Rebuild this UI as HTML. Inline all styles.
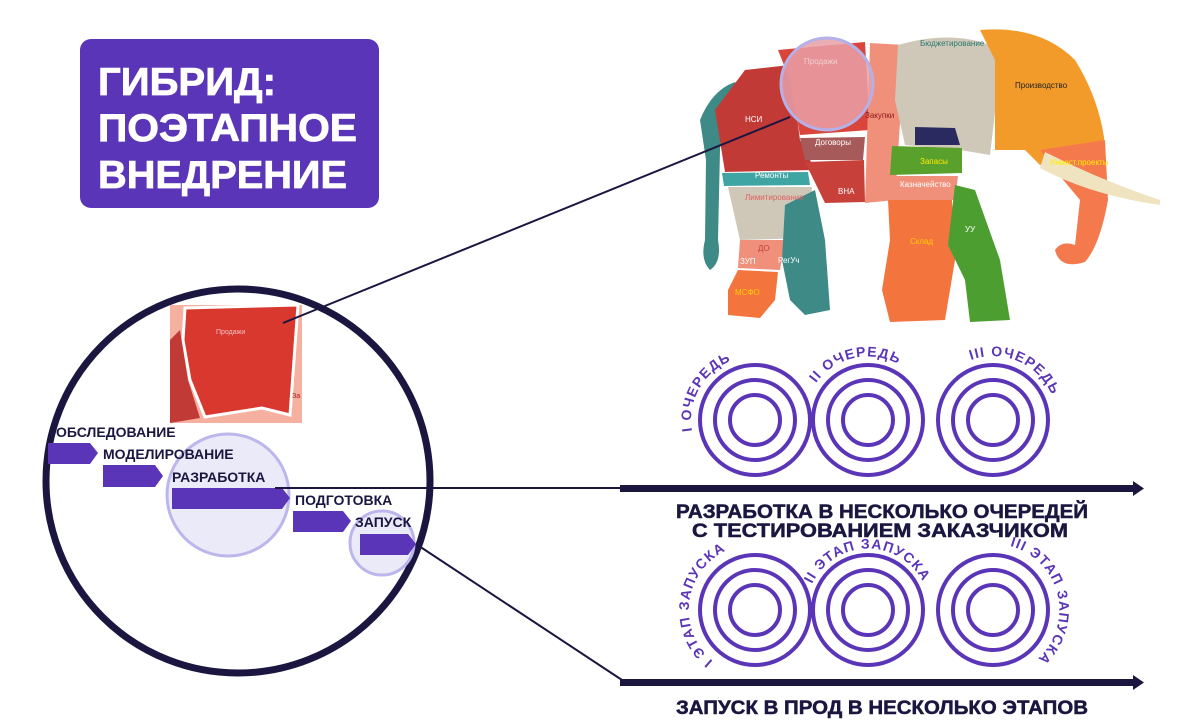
<!DOCTYPE html>
<html><head><meta charset="utf-8"><style>
html,body{margin:0;padding:0;background:#fff;}
svg{display:block;font-family:"Liberation Sans",sans-serif;font-weight:bold;}
</style></head><body>
<svg width="1200" height="725" viewBox="0 0 1200 725" xmlns="http://www.w3.org/2000/svg">
<!-- title -->
<rect x="80" y="39" width="299" height="169" rx="11" fill="#5a35b8"/>
<g fill="#fff" font-size="39" font-weight="bold" stroke="#fff" stroke-width="0.8">
<text x="98" y="95" textLength="178" lengthAdjust="spacingAndGlyphs">ГИБРИД:</text>
<text x="98" y="141" textLength="259" lengthAdjust="spacingAndGlyphs">ПОЭТАПНОЕ</text>
<text x="98" y="188" textLength="249" lengthAdjust="spacingAndGlyphs">ВНЕДРЕНИЕ</text>
</g>

<!-- elephant (approximate) -->
<g>
<path d="M700 120 Q712 90 735 82 L740 95 Q722 110 720 150 L718 240 Q722 262 710 270 Q700 260 705 240 L706 160 Z" fill="#3d8a86"/>
<path d="M715 110 L745 70 L790 65 L800 140 L815 170 L725 172 Z" fill="#c23a36"/>
<path d="M778 50 L865 42 L870 130 L800 135 L790 80 Z" fill="#d9453a"/>
<path d="M870 43 L905 45 L895 200 L865 203 Z" fill="#f0907a"/>
<path d="M800 138 L865 137 L863 160 L805 160 Z" fill="#a65a5a"/>
<path d="M805 162 L864 160 L865 202 L825 203 Z" fill="#c8403a"/>
<path d="M722 173 L808 172 L810 185 L724 186 Z" fill="#3fa5a3"/>
<path d="M728 187 L812 187 L808 238 L740 240 Z" fill="#cfc8b8"/>
<path d="M740 240 L785 240 L780 270 L738 268 Z" fill="#f0907a"/>
<path d="M738 270 L778 272 L775 300 L760 318 L728 315 L728 290 Z" fill="#f4743e"/>
<path d="M785 205 L815 190 L825 240 L830 310 L805 315 L790 300 L782 260 Z" fill="#3d8a86"/>
<path d="M898 45 Q950 30 990 45 L1000 70 L990 155 L960 150 L905 145 L895 100 Z" fill="#cfc8b8"/>
<path d="M980 30 Q1040 25 1075 60 Q1100 100 1105 145 L1040 165 L1025 150 L995 150 L995 60 Z" fill="#f39b2a"/>
<path d="M1040 150 L1105 140 L1108 200 Q1100 245 1085 262 Q1060 270 1055 250 Q1062 240 1075 245 L1080 200 L1055 170 Z" fill="#f47a4e"/>
<path d="M1045 152 Q1100 180 1160 200 L1160 205 Q1090 195 1040 168 Z" fill="#efe3c0"/>
<path d="M915 127 L955 128 L960 145 L915 145 Z" fill="#2b2a60"/>
<path d="M892 146 L962 148 L962 173 L890 175 Z" fill="#5aa02c"/>
<path d="M890 176 L958 176 L955 200 L888 200 Z" fill="#f0907a"/>
<path d="M888 200 L952 200 L955 260 L945 320 L890 322 L882 290 L890 240 Z" fill="#f4743e"/>
<path d="M955 185 L975 190 L1000 260 L1010 320 L970 322 L965 280 L948 245 Z" fill="#4d9e30"/>
<circle cx="827" cy="84" r="46" fill="#e8a0a8" fill-opacity="0.85" stroke="#b4b0e8" stroke-width="3"/>
<g font-size="8" font-weight="normal">
<text x="804" y="64" fill="#f0d0d0">Продажи</text>
<text x="745" y="122" fill="#fff">НСИ</text>
<text x="815" y="145" fill="#fff">Договоры</text>
<text x="865" y="118" fill="#8a1a1a">Закупки</text>
<text x="920" y="46" fill="#2a7a70">Бюджетирование</text>
<text x="1015" y="88" fill="#222">Производство</text>
<text x="1050" y="165" fill="#ffee00">Инвест.проекты</text>
<text x="920" y="164" fill="#ffee00">Запасы</text>
<text x="900" y="187" fill="#fff">Казначейство</text>
<text x="755" y="178" fill="#fff">Ремонты</text>
<text x="745" y="200" fill="#e06060">Лимитирование</text>
<text x="838" y="194" fill="#fff">ВНА</text>
<text x="758" y="251" fill="#c04040">ДО</text>
<text x="740" y="264" fill="#fff">ЗУП</text>
<text x="778" y="263" fill="#fff">РегУч</text>
<text x="735" y="295" fill="#ffcc00">МСФО</text>
<text x="910" y="244" fill="#ffcc00">Склад</text>
<text x="965" y="232" fill="#fff">УУ</text>
</g>
</g>

<!-- big circle -->
<circle cx="238" cy="481" r="192" fill="#fff" stroke="#1a1640" stroke-width="7"/>
<rect x="170" y="305" width="132" height="118" fill="#f5b0a0"/>
<path d="M185 308 L298 305 L290 415 L262 408 L205 417 L190 380 L183 340 Z" fill="#d9382f" stroke="#fff" stroke-width="3"/>
<path d="M170 340 L180 330 L188 380 L200 418 L170 423 Z" fill="#c23a36"/>
<text x="216" y="334" font-size="7" font-weight="normal" fill="#f0c0c0">Продажи</text>
<text x="292" y="398" font-size="7" font-weight="normal" fill="#a02020">За</text>
<circle cx="228" cy="495" r="61" fill="#ebeaf8" stroke="#bcb6ec" stroke-width="3"/>
<circle cx="382" cy="543" r="32" fill="#ebeaf8" stroke="#bcb6ec" stroke-width="3"/>
<g fill="#5a35b8">
<path d="M48 443 L90 443 L98 453 L90 464 L48 464 Z"/>
<path d="M103 465 L155 465 L163 476 L155 487 L103 487 Z"/>
<path d="M172 488 L282 488 L290 498 L282 509 L172 509 Z"/>
<path d="M293 511 L343 511 L351 521 L343 532 L293 532 Z"/>
<path d="M360 534 L408 534 L416 544 L408 555 L360 555 Z"/>
</g>
<g fill="#1a1640" font-size="14">
<text x="56" y="437">ОБСЛЕДОВАНИЕ</text>
<text x="103" y="459">МОДЕЛИРОВАНИЕ</text>
<text x="172" y="482">РАЗРАБОТКА</text>
<text x="295" y="505">ПОДГОТОВКА</text>
<text x="355" y="527">ЗАПУСК</text>
</g>

<!-- connector lines -->
<g stroke="#1a1640" stroke-width="2" fill="none">
<line x1="790" y1="117" x2="283" y2="323"/>
<line x1="275" y1="488" x2="625" y2="488"/>
<line x1="419" y1="546" x2="622" y2="680"/>
</g>

<!-- arrows -->
<rect x="620" y="485" width="515" height="7" fill="#1a1640"/>
<path d="M1133 481 L1144 488.5 L1133 496 Z" fill="#1a1640"/>
<rect x="620" y="679" width="515" height="7" fill="#1a1640"/>
<path d="M1133 675 L1144 682.5 L1133 690 Z" fill="#1a1640"/>

<!-- rings -->
<defs>
<path id="a1" d="M692 431 A64 64 0 0 1 777 360"/>
<path id="a2" d="M816 383 A64 64 0 0 1 923 388"/>
<path id="a3" d="M971 360 A64 64 0 0 1 1056 409"/>
<path id="b1" d="M713 661 A66 66 0 0 1 732 548"/>
<path id="b2" d="M812 584 A62 62 0 0 1 924 584"/>
<path id="b3" d="M1010 546 A66 66 0 0 1 1035 661"/>
</defs>
<g fill="none" stroke="#5a35b8" stroke-width="4">
<circle cx="755" cy="420" r="55"/><circle cx="755" cy="420" r="40"/><circle cx="755" cy="420" r="25"/>
<circle cx="868" cy="420" r="55"/><circle cx="868" cy="420" r="40"/><circle cx="868" cy="420" r="25"/>
<circle cx="993" cy="420" r="55"/><circle cx="993" cy="420" r="40"/><circle cx="993" cy="420" r="25"/>
<circle cx="755" cy="610" r="55"/><circle cx="755" cy="610" r="40"/><circle cx="755" cy="610" r="25"/>
<circle cx="868" cy="610" r="55"/><circle cx="868" cy="610" r="40"/><circle cx="868" cy="610" r="25"/>
<circle cx="993" cy="610" r="55"/><circle cx="993" cy="610" r="40"/><circle cx="993" cy="610" r="25"/>
</g>
<g fill="#5a35b8" font-size="14" letter-spacing="1.2">
<text><textPath href="#a1">I ОЧЕРЕДЬ</textPath></text>
<text><textPath href="#a2">II ОЧЕРЕДЬ</textPath></text>
<text><textPath href="#a3">III ОЧЕРЕДЬ</textPath></text>
<text><textPath href="#b1">I ЭТАП ЗАПУСКА</textPath></text>
<text><textPath href="#b2">II ЭТАП ЗАПУСКА</textPath></text>
<text><textPath href="#b3">III ЭТАП ЗАПУСКА</textPath></text>
</g>

<g fill="#1a1640" font-size="19" stroke="#1a1640" stroke-width="0.5">
<text x="676" y="518" textLength="412" lengthAdjust="spacingAndGlyphs">РАЗРАБОТКА В НЕСКОЛЬКО ОЧЕРЕДЕЙ</text>
<text x="692" y="537" textLength="376" lengthAdjust="spacingAndGlyphs">С ТЕСТИРОВАНИЕМ ЗАКАЗЧИКОМ</text>
<text x="676" y="714" textLength="412" lengthAdjust="spacingAndGlyphs">ЗАПУСК В ПРОД В НЕСКОЛЬКО ЭТАПОВ</text>
</g>
</svg>
</body></html>
